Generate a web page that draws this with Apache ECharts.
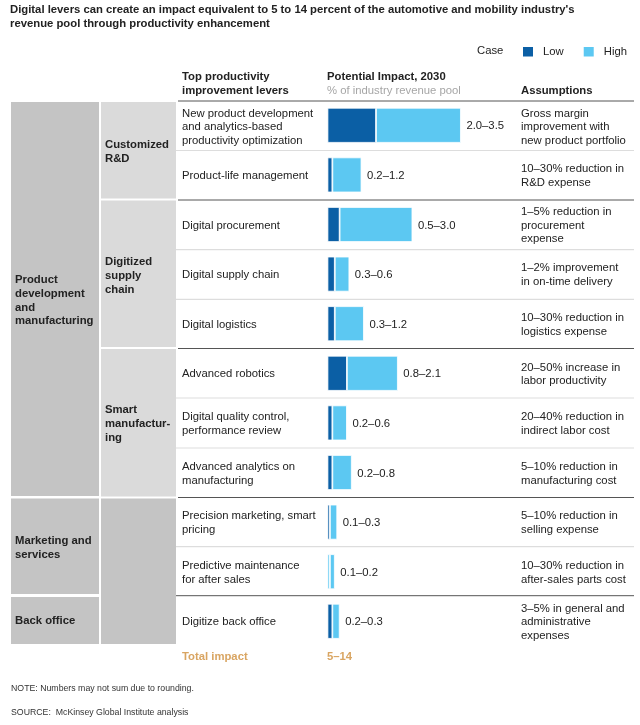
<!DOCTYPE html>
<html>
<head>
<meta charset="utf-8">
<style>
  html, body { margin: 0; padding: 0; background: #fff; }
  #chart { width: 640px; height: 725px; }
</style>
<script src="https://cdn.jsdelivr.net/npm/echarts@6/dist/echarts.min.js"></script>
</head>
<body>
<div id="chart"></div>
<script>
// chart values
const levers = [
  'New product development\nand analytics-based\nproductivity optimization',
  'Product-life management',
  'Digital procurement',
  'Digital supply chain',
  'Digital logistics',
  'Advanced robotics',
  'Digital quality control,\nperformance review',
  'Advanced analytics on\nmanufacturing',
  'Precision marketing, smart\npricing',
  'Predictive maintenance\nfor after sales',
  'Digitize back office'
]
const lowCase = [2.0, 0.2, 0.5, 0.3, 0.3, 0.8, 0.2, 0.2, 0.1, 0.1, 0.2]
const highCase = [3.5, 1.2, 3.0, 0.6, 1.2, 2.1, 0.6, 0.8, 0.3, 0.2, 0.3]
const assumptions = [
  'Gross margin\nimprovement with\nnew product portfolio',
  '10–30% reduction in\nR&D expense',
  '1–5% reduction in\nprocurement\nexpense',
  '1–2% improvement\nin on-time delivery',
  '10–30% reduction in\nlogistics expense',
  '20–50% increase in\nlabor productivity',
  '20–40% reduction in\nindirect labor cost',
  '5–10% reduction in\nmanufacturing cost',
  '5–10% reduction in\nselling expense',
  '10–30% reduction in\nafter-sales parts cost',
  '3–5% in general and\nadministrative\nexpenses'
]

const FONT = '"Liberation Sans", Arial, sans-serif'
const INK = '#222'
const BLUE_LOW = '#0b5fa5'
const BLUE_HIGH = '#5cc8f2'
const ROW_TOP = 100.5
const ROW_H = 49.6
const rowY = i => ROW_TOP + (i + 0.5) * ROW_H

function txt(x, y, text, bold, color, size) {
  return {
    type: 'text', x: x, y: y + 1, z: 5,
    style: {
      text: text, fill: color || INK, font: (bold ? 'bold ' : '') + (size || 11.3) + 'px ' + FONT,
      lineHeight: 13.8, verticalAlign: 'middle', align: 'left'
    }
  }
}
function block(x, y, w, h, fill) {
  return { type: 'rect', z: 1, shape: { x: x, y: y, width: w, height: h }, style: { fill: fill } }
}
function rule(x1, x2, y, color, w) {
  return { type: 'line', z: 2, shape: { x1: x1, y1: y, x2: x2, y2: y }, style: { stroke: color, lineWidth: w } }
}

const graphics = [
  txt(10, 16, "Digital levers can create an impact equivalent to 5 to 14 percent of the automotive and mobility industry's\nrevenue pool through productivity enhancement", true),
  txt(477, 50, 'Case'),
  txt(182, 83, 'Top productivity\nimprovement levers', true),
  txt(327, 76, 'Potential Impact, 2030', true),
  txt(327, 90, '% of industry revenue pool', false, '#a6a6a6'),
  txt(521, 90, 'Assumptions', true),

  block(11, 102, 88, 394, '#c4c4c4'),
  block(11, 498.5, 88, 95.5, '#c4c4c4'),
  block(11, 597, 88, 47, '#c4c4c4'),
  block(101, 102, 75, 96.5, '#dadada'),
  block(101, 200.5, 75, 146.5, '#dadada'),
  block(101, 349, 75, 147.5, '#dadada'),
  block(101, 498.5, 75, 145.5, '#c4c4c4'),

  txt(15, 299.5, 'Product\ndevelopment\nand\nmanufacturing', true),
  txt(15, 547, 'Marketing and\nservices', true),
  txt(15, 620, 'Back office', true),
  txt(105, 151, 'Customized\nR&D', true),
  txt(105, 275, 'Digitized\nsupply\nchain', true),
  txt(105, 423, 'Smart\nmanufactur-\ning', true),

  rule(178, 634, 101, '#555', 1),
  rule(176, 634, 150.5, '#ddd', 1.2),
  rule(178, 634, 200, '#555', 1),
  rule(176, 634, 249.7, '#ddd', 1.2),
  rule(176, 634, 299.3, '#ddd', 1.2),
  rule(178, 634, 348.5, '#555', 1),
  rule(176, 634, 398, '#ddd', 1.2),
  rule(176, 634, 448, '#ddd', 1.2),
  rule(178, 634, 497.5, '#555', 1),
  rule(176, 634, 546.7, '#ddd', 1.2),
  rule(176, 634, 595.7, '#555', 1),

  txt(182, 656, 'Total impact', true, '#d9a562'),
  txt(327, 656, '5–14', true, '#d9a562'),
  txt(11, 688, 'NOTE: Numbers may not sum due to rounding.', false, '#333', 8.75),
  txt(11, 712, 'SOURCE:  McKinsey Global Institute analysis', false, '#333', 8.75)
]
levers.forEach((name, i) => graphics.push(txt(182, rowY(i) + (i === 0 ? 1 : 0), name)))
assumptions.forEach((text, i) => graphics.push(txt(521, rowY(i) + (i === 0 ? 1 : 0), text)))

const myChart = echarts.init(document.getElementById('chart'), null, { renderer: 'canvas' })
const option = {
  animation: false,
  backgroundColor: '#fff',
  textStyle: { fontFamily: FONT },
  legend: {
    left: 521, top: 45, padding: 0, itemWidth: 12, itemHeight: 11.5, itemGap: 18,
    icon: 'rect', selectedMode: false,
    textStyle: { fontSize: 11.3, color: INK, fontFamily: FONT, padding: [1, 0, 0, 4] },
    data: ['Low', 'High']
  },
  grid: { left: 327.5, top: ROW_TOP, width: 291, height: ROW_H * levers.length },
  xAxis: { type: 'value', min: 0, max: 12, show: false },
  yAxis: { type: 'category', inverse: true, show: false, data: levers },
  series: [
    {
      name: 'Low', type: 'bar', stack: 'impact', barWidth: 35, data: lowCase,
      // the predictive maintenance sliver reads as light blue in the original
      itemStyle: {
        color: p => (p.dataIndex === 9 ? BLUE_HIGH : BLUE_LOW),
        borderColor: '#fff', borderWidth: 0.8
      }
    },
    {
      name: 'High', type: 'bar', stack: 'impact', barWidth: 35, data: highCase,
      itemStyle: { color: BLUE_HIGH, borderColor: '#fff', borderWidth: 0.8 },
      label: {
        show: true, position: 'right', distance: 5.5, offset: [0, 1], fontSize: 11.3, color: INK, fontFamily: FONT,
        formatter: p => lowCase[p.dataIndex].toFixed(1) + '–' + highCase[p.dataIndex].toFixed(1)
      }
    }
  ],
  color: [BLUE_LOW, BLUE_HIGH],
  graphic: graphics
}
myChart.setOption(option)
</script>
</body>
</html>
